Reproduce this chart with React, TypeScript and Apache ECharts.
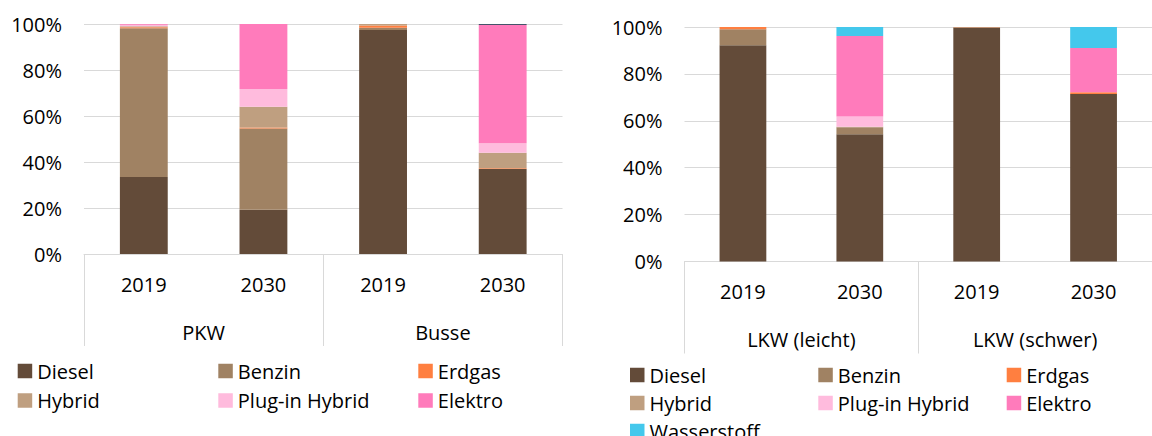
import React, { useEffect, useRef } from "react";
import * as echarts from "echarts";

const yearsLeft = ["2019", "2030", "2019", "2030"];
const groupsLeft = ["PKW", "Busse"];
const yearsRight = ["2019", "2030", "2019", "2030"];
const groupsRight = ["LKW (leicht)", "LKW (schwer)"];

const seriesNames = ["Diesel", "Benzin", "Erdgas", "Hybrid", "Plug-in Hybrid", "Elektro", "Wasserstoff"];
const seriesColors = ["#634b39", "#a08263", "#ff7f40", "#bf9f80", "#ffbbdd", "#ff7bbb", "#44c8ec"];
const leftExtraColor = "#44546a";

// left chart: PKW 2019, PKW 2030, Busse 2019, Busse 2030 (%)
const leftDiesel = [33.5, 19.2, 97.4, 37.0];
const leftBenzin = [64.6, 35.4, 1.0, 0];
const leftErdgas = [0.5, 0.4, 0.9, 0.3];
const leftHybrid = [0.4, 9.0, 0.7, 6.7];
const leftPlugIn = [0.7, 7.7, 0, 4.2];
const leftElektro = [0.3, 28.3, 0, 51.4];
const leftWasserstoff = [0, 0, 0, 0.4];

// right chart: LKW leicht 2019, 2030, LKW schwer 2019, 2030 (%)
const rightDiesel = [92.2, 54.3, 99.7, 71.4];
const rightBenzin = [6.8, 2.9, 0.2, 0];
const rightErdgas = [1.0, 0, 0.1, 0.8];
const rightHybrid = [0, 0.3, 0, 0];
const rightPlugIn = [0, 4.3, 0, 0];
const rightElektro = [0, 34.4, 0, 18.8];
const rightWasserstoff = [0, 3.8, 0, 9.0];

const yTicks = [0, 20, 40, 60, 80, 100];

const leftData = [leftDiesel, leftBenzin, leftErdgas, leftHybrid, leftPlugIn, leftElektro, leftWasserstoff];
const rightData = [rightDiesel, rightBenzin, rightErdgas, rightHybrid, rightPlugIn, rightElektro, rightWasserstoff];

const FONT = "Open Sans";
const GRID_COLOR = "#d9d9d9";
const TXT = { fontFamily: FONT, fontSize: 20, color: "#000" };

export default function App() {
  const ref = useRef<HTMLDivElement>(null);
  useEffect(() => {
    if (!ref.current) return;
    const chart = echarts.init(ref.current, null, { renderer: "svg" });

    const yAxis = (gridIndex: number) => ({
      type: "value",
      gridIndex,
      min: yTicks[0],
      max: yTicks[yTicks.length - 1],
      interval: 20,
      axisLine: { show: false },
      axisTick: { show: false },
      splitLine: { lineStyle: { color: GRID_COLOR, width: 1 } },
      axisLabel: { ...TXT, margin: 22, formatter: "{value}%" },
    });

    const xYears = (gridIndex: number, data: string[]) => ({
      type: "category",
      gridIndex,
      position: "bottom",
      data,
      axisLine: { show: true, lineStyle: { color: GRID_COLOR, width: 1 } },
      axisTick: { show: false },
      axisLabel: { ...TXT, margin: 20, interval: 0 },
    });

    const xGroups = (gridIndex: number, data: string[]) => ({
      type: "category",
      gridIndex,
      position: "bottom",
      offset: 0,
      data,
      axisLine: { show: false },
      axisTick: { show: true, length: 92, lineStyle: { color: GRID_COLOR, width: 1 } },
      axisLabel: { ...TXT, margin: 68, interval: 0 },
    });

    const series: any[] = [];
    seriesNames.forEach((name, i) => {
      series.push({
        type: "bar",
        name: i === 6 ? "WasserstoffL" : name,
        stack: "L",
        xAxisIndex: 0,
        yAxisIndex: 0,
        barWidth: "40%",
        data: leftData[i],
        itemStyle: { color: i === 6 ? leftExtraColor : seriesColors[i] },
      });
    });
    seriesNames.forEach((name, i) => {
      series.push({
        type: "bar",
        name,
        stack: "R",
        xAxisIndex: 2,
        yAxisIndex: 1,
        barWidth: "40%",
        data: rightData[i],
        itemStyle: { color: seriesColors[i] },
      });
    });

    const legendBase = {
      orient: "vertical",
      icon: "rect",
      itemWidth: 14.5,
      itemHeight: 14.5,
      padding: 0,
      selectedMode: false,
      textStyle: { ...TXT, lineHeight: 20 },
    };

    chart.setOption({
      animation: false,
      grid: [
        { left: 84, top: 24, width: 478.5, height: 230 },
        { left: 684.5, top: 27, width: 479, height: 234.5 },
      ],
      xAxis: [
        xYears(0, yearsLeft),
        xGroups(0, groupsLeft),
        xYears(1, yearsRight),
        xGroups(1, groupsRight),
      ],
      yAxis: [yAxis(0), yAxis(1)],
      legend: [
        { ...legendBase, left: 17.7, top: 361, itemGap: 9.5, data: ["Diesel", "Hybrid"] },
        { ...legendBase, left: 218.3, top: 361, itemGap: 9.5, data: ["Benzin", "Plug-in Hybrid"] },
        { ...legendBase, left: 418.3, top: 361, itemGap: 9.5, data: ["Erdgas", "Elektro"] },
        { ...legendBase, left: 630, top: 365, itemGap: 8, data: ["Diesel", "Hybrid"] },
        { ...legendBase, left: 630, top: 421, itemGap: 8, data: ["Wasserstoff"] },
        { ...legendBase, left: 818.3, top: 365, itemGap: 8, data: ["Benzin", "Plug-in Hybrid"] },
        { ...legendBase, left: 1006.7, top: 365, itemGap: 8, data: ["Erdgas", "Elektro"] },
      ],
      series,
    });
    return () => chart.dispose();
  }, []);
  return (
    <div
      ref={ref}
      style={{ position: "fixed", left: 0, top: 0, width: 1152, height: 436, background: "#fff" }}
    />
  );
}
